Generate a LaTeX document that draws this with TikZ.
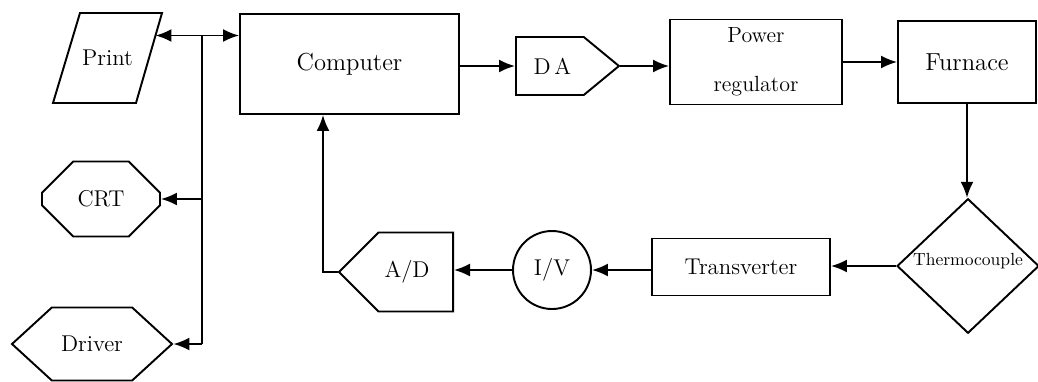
\documentclass[tikz,border=0pt]{standalone}
\usetikzlibrary{shapes.geometric,shapes.misc,shapes.symbols,arrows.meta,calc}
\tikzstyle{every node}=[font=\fontsize{13pt}{16pt}\selectfont]
\tikzstyle{box}=[draw, line width=1.1pt, inner sep=0pt]
\tikzstyle{wire}=[line width=1.1pt]
\tikzstyle{arr}=[wire, -{Latex[length=3.2mm,width=2.6mm]}]
\tikzstyle{arrboth}=[wire, {Latex[length=3.2mm,width=2.6mm]}-{Latex[length=3.2mm,width=2.6mm]}]

\begin{document}
\begin{tikzpicture}[x=0.02cm, y=-0.02cm]
	\useasboundingbox (0,0) rectangle (1038,382);

	% Computer and the heating chain
	\node[box, minimum width=4.38cm, minimum height=2cm, font=\fontsize{14pt}{17pt}\selectfont] (comp) at (349.5,64) {Computer};
	\node[box, signal, signal to=east, signal pointer angle=79, minimum width=2.06cm, minimum height=1.16cm, anchor=west] (da) at (515,66) {\hspace*{0.1cm}D\,A};
	\node[box, minimum width=3.44cm, minimum height=1.7cm, align=center, font=\fontsize{12.5pt}{28pt}\selectfont] (pow) at (756,62) {Power\\regulator};
	\node[box, minimum width=2.76cm, minimum height=1.64cm, font=\fontsize{14pt}{17pt}\selectfont] (fur) at (967,62) {Furnace};

	% Measuring chain back to the computer
	\node[box, diamond, minimum width=2.84cm, minimum height=2.64cm, font=\fontsize{10pt}{12pt}\selectfont] (th) at (968,266) {\raisebox{0.25cm}{Thermocouple}};
	\node[box, minimum width=3.56cm, minimum height=1.14cm] (trans) at (741,267) {Transverter};
	\node[box, circle, minimum size=1.56cm] (iv) at (552,270) {I/V};
	\node[box, signal, signal to=west, signal pointer angle=90, minimum width=2.28cm, minimum height=1.58cm, anchor=east] (ad) at (454,272) {A/D\hspace*{0.35cm}};

	% Peripherals
	\node (print) at (107.5,58) {Print};
	\coordinate (ptr) at ($(print)+(54.5,-45)$);
	\coordinate (pbr) at ($(print)+(28.5,45)$);
	\draw[box] ($(print)+(-54.5,45)$) -- ($(print)+(-27.5,-45)$) -- (ptr) -- (pbr) -- cycle;
	\node[box, chamfered rectangle, chamfered rectangle xsep=0.42cm, chamfered rectangle ysep=0.46cm, minimum width=2.36cm, minimum height=1.5cm] (crt) at (101,199) {CRT};
	\node[box, signal, signal to=east and west, signal pointer angle=85, minimum width=3.2cm, minimum height=1.46cm] (drv) at (92,344) {Driver};

	% Bus on the left
	\coordinate (pp) at ($(ptr)!0.25!(pbr)$);
	\coordinate (jt) at (202,0 |- pp);
	\coordinate (jb) at (jt |- drv.east);
	\draw[arrboth] (pp) -- (pp -| comp.west);
	\draw[wire] (jt) -- (jb);
	\draw[arr] (jt |- crt.east) -- (crt.east);
	\draw[arr] (jb) -- (drv.east);

	% Forward path
	\draw[arr] (comp.east |- da.west) -- (da.west);
	\draw[arr] (da.east) -- (da.east -| pow.west);
	\draw[arr] (pow.east) -- (pow.east -| fur.west);
	\draw[arr] (fur.south) -- (fur.south |- th.north);

	% Feedback path
	\draw[arr] (th.west) -- (th.west -| trans.east);
	\draw[arr] (trans.west |- iv.east) -- (iv.east);
	\draw[arr] (iv.west) -- (iv.west -| ad.east);
	\coordinate (fb) at (323,0 |- ad.west);
	\draw[arr] (ad.west) -- (fb) -- (fb |- comp.south);
\end{tikzpicture}
\end{document}
